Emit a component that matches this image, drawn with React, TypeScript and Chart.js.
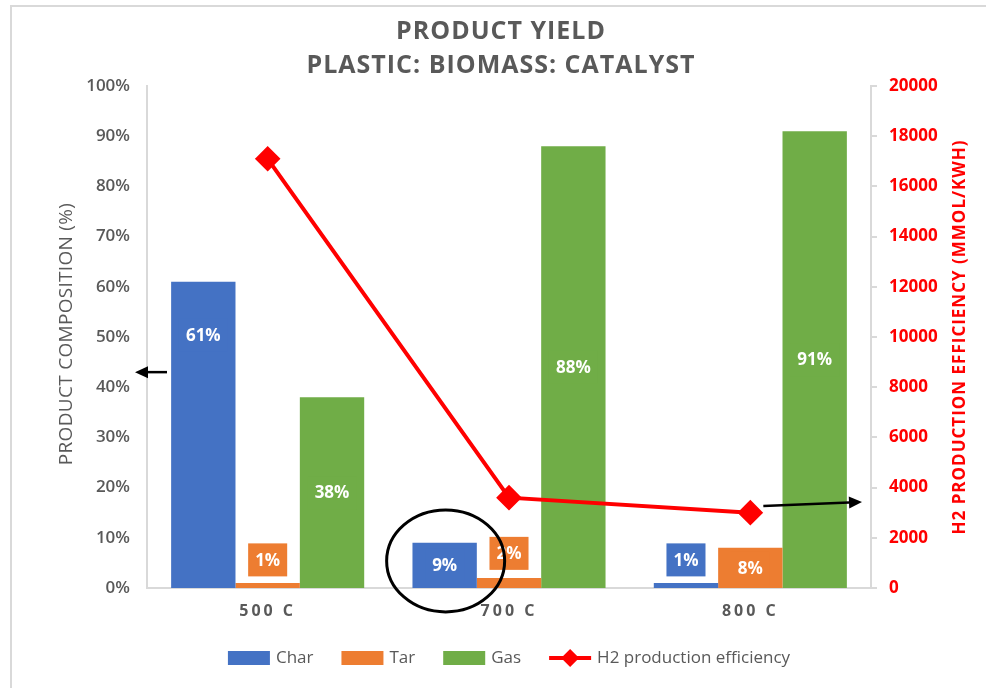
import React, { useEffect, useRef } from 'react';
import { Chart, registerables } from 'chart.js';

Chart.register(...registerables);

// ---------- data ----------
const categories = ['500 C', '700 C', '800 C'];
const charValues = [61, 9, 1];
const tarValues = [1, 2, 8];
const gasValues = [38, 88, 91];
const h2Values = [17100, 3600, 3000];
const titleLines = ['PRODUCT YIELD', 'PLASTIC: BIOMASS: CATALYST'];
const leftAxisTitle = 'PRODUCT COMPOSITION (%)';
const rightAxisTitle = 'H2 PRODUCTION EFFICIENCY (MMOL/KWH)';

const FONT = '"Open Sans", sans-serif';
const GRAY = '#595959';
const AXIS = '#d9d9d9';
const COLORS = { char: '#4472C4', tar: '#ED7D31', gas: '#70AD47', h2: '#FF0000' };

// label anchors (value on left axis) for labels moved off bar centres
const labelAnchors: Record<string, number> = { '0-0': 50.4, '1-0': 5.6, '1-1': 6.9, '0-2': 5.6 };

const framePlugin = {
  id: 'frame',
  beforeDraw(chart: any) {
    const ctx = chart.ctx;
    ctx.save();
    ctx.fillStyle = '#fff';
    ctx.fillRect(0, 0, chart.width, chart.height);
    ctx.strokeStyle = AXIS;
    ctx.lineWidth = 2;
    ctx.beginPath();
    ctx.moveTo(11, chart.height);
    ctx.lineTo(11, 6);
    ctx.lineTo(chart.width, 6);
    ctx.stroke();
    ctx.restore();
  },
};

// letter-spaced category labels on the x axis
const spacedXTicksPlugin = {
  id: 'spacedXTicks',
  afterLayout(chart: any) {
    const s = chart.scales.x;
    if (!s || s._spacedPatched) return;
    const orig = s.drawLabels.bind(s);
    s.drawLabels = (area: any) => {
      const ctx = chart.ctx;
      ctx.save();
      (ctx as any).letterSpacing = '3px';
      orig(area);
      ctx.restore();
    };
    s._spacedPatched = true;
  },
};

const titlePlugin = {
  id: 'spacedTitle',
  afterDraw(chart: any) {
    const ctx = chart.ctx;
    const { top, bottom } = chart.chartArea;
    ctx.save();
    ctx.fillStyle = GRAY;
    ctx.font = `bold 25px ${FONT}`;
    (ctx as any).letterSpacing = '1px';
    ctx.textAlign = 'center';
    ctx.textBaseline = 'middle';
    ctx.fillText(titleLines[0], 501, 32);
    ctx.fillText(titleLines[1], 501, 66);

    // left axis title
    ctx.save();
    ctx.translate(67, 334);
    ctx.rotate(-Math.PI / 2);
    ctx.font = `19px ${FONT}`;
    (ctx as any).letterSpacing = '0.3px';
    ctx.fillStyle = GRAY;
    ctx.fillText(leftAxisTitle, 0, 0);
    ctx.restore();

    // right axis title
    ctx.save();
    ctx.translate(960, (top + bottom) / 2);
    ctx.rotate(-Math.PI / 2);
    ctx.font = `bold 17px ${FONT}`;
    (ctx as any).letterSpacing = '1px';
    ctx.fillStyle = COLORS.h2;
    ctx.fillText(rightAxisTitle, 0, 0);
    ctx.restore();
    ctx.restore();
  },
};

const barLabelPlugin = {
  id: 'barLabels',
  afterDatasetsDraw(chart: any) {
    const ctx = chart.ctx;
    const yScale = chart.scales.y;
    ctx.save();
    chart.data.datasets.forEach((ds: any, di: number) => {
      if (ds.type === 'line') return;
      const meta = chart.getDatasetMeta(di);
      meta.data.forEach((bar: any, i: number) => {
        const text = ds.data[i] + '%';
        const key = di + '-' + i;
        const cy = labelAnchors[key] != null ? yScale.getPixelForValue(labelAnchors[key]) : (bar.y + bar.base) / 2;
        ctx.font = `bold 17px ${FONT}`;
        const tw = ctx.measureText(text).width;
        const bw = tw + 14;
        const bh = 33;
        ctx.fillStyle = ds.backgroundColor;
        ctx.fillRect(bar.x - bw / 2, cy - bh / 2, bw, bh);
        ctx.fillStyle = '#ffffff';
        ctx.textAlign = 'center';
        ctx.textBaseline = 'middle';
        ctx.fillText(text, bar.x, cy + 1);
      });
    });
    ctx.restore();
  },
};

function arrow(ctx: CanvasRenderingContext2D, x1: number, y1: number, x2: number, y2: number) {
  const ang = Math.atan2(y2 - y1, x2 - x1);
  const hl = 13;
  const hw = 6;
  const bx = x2 - hl * Math.cos(ang);
  const by = y2 - hl * Math.sin(ang);
  ctx.beginPath();
  ctx.moveTo(x1, y1);
  ctx.lineTo(bx, by);
  ctx.stroke();
  ctx.beginPath();
  ctx.moveTo(x2, y2);
  ctx.lineTo(bx + hw * Math.sin(ang), by - hw * Math.cos(ang));
  ctx.lineTo(bx - hw * Math.sin(ang), by + hw * Math.cos(ang));
  ctx.closePath();
  ctx.fill();
}

const annotationPlugin = {
  id: 'annotations',
  afterDraw(chart: any) {
    const ctx = chart.ctx;
    const { left, right } = chart.chartArea;
    const y = chart.scales.y;
    const y1 = chart.scales.y1;
    const x = chart.scales.x;
    ctx.save();
    ctx.strokeStyle = '#000';
    ctx.fillStyle = '#000';
    ctx.lineWidth = 2.5;
    // left arrow -> left axis
    const ly = y.getPixelForValue(43);
    arrow(ctx, left + 20, ly, left - 12, ly);
    // right arrow -> right axis
    const px = x.getPixelForValue(2);
    arrow(ctx, px + 13, y1.getPixelForValue(3270), right - 9, y1.getPixelForValue(3430));
    // ellipse around 700 C char bar
    const charBar = chart.getDatasetMeta(0).data[1];
    ctx.lineWidth = 3;
    ctx.beginPath();
    ctx.ellipse(charBar.x + 1, y.getPixelForValue(5.4), 59, 51, 0, 0, Math.PI * 2);
    ctx.stroke();
    ctx.restore();
  },
};

const legendPlugin = {
  id: 'customLegend',
  afterDraw(chart: any) {
    const ctx = chart.ctx;
    ctx.save();
    ctx.font = `17px ${FONT}`;
    const items = chart.data.datasets.map((ds: any) => ({
      label: ds.label,
      color: ds.type === 'line' ? ds.borderColor : ds.backgroundColor,
      line: ds.type === 'line',
      w: ctx.measureText(ds.label).width,
    }));
    const box = 42;
    const gapIn = 6;
    const gapOut = 28;
    const total = items.reduce((s: number, it: any) => s + box + gapIn + it.w, 0) + gapOut * (items.length - 1);
    let cx = 509 - total / 2;
    const cy = 658;
    items.forEach((it: any) => {
      if (it.line) {
        ctx.strokeStyle = it.color;
        ctx.lineWidth = 4;
        ctx.beginPath();
        ctx.moveTo(cx, cy);
        ctx.lineTo(cx + box, cy);
        ctx.stroke();
        ctx.fillStyle = it.color;
        ctx.beginPath();
        const mx = cx + box / 2;
        ctx.moveTo(mx, cy - 9);
        ctx.lineTo(mx + 9, cy);
        ctx.lineTo(mx, cy + 9);
        ctx.lineTo(mx - 9, cy);
        ctx.closePath();
        ctx.fill();
      } else {
        ctx.fillStyle = it.color;
        ctx.fillRect(cx, cy - 7, box, 14);
      }
      ctx.fillStyle = GRAY;
      ctx.textAlign = 'left';
      ctx.textBaseline = 'middle';
      ctx.fillText(it.label, cx + box + gapIn, cy);
      cx += box + gapIn + it.w + gapOut;
    });
    ctx.restore();
  },
};

export default function App() {
  const ref = useRef<HTMLCanvasElement | null>(null);

  useEffect(() => {
    if (!ref.current) return;
    const chart = new Chart(ref.current, {
      type: 'bar',
      data: {
        labels: categories,
        datasets: [
          { type: 'bar', label: 'Char', data: charValues, backgroundColor: COLORS.char, yAxisID: 'y', order: 1, categoryPercentage: 0.8, barPercentage: 1.0 } as any,
          { type: 'bar', label: 'Tar', data: tarValues, backgroundColor: COLORS.tar, yAxisID: 'y', order: 1, categoryPercentage: 0.8, barPercentage: 1.0 } as any,
          { type: 'bar', label: 'Gas', data: gasValues, backgroundColor: COLORS.gas, yAxisID: 'y', order: 1, categoryPercentage: 0.8, barPercentage: 1.0 } as any,
          {
            type: 'line',
            label: 'H2 production efficiency',
            data: h2Values,
            borderColor: COLORS.h2,
            backgroundColor: COLORS.h2,
            borderWidth: 4,
            pointStyle: 'rectRot',
            pointRadius: 10,
            pointBackgroundColor: COLORS.h2,
            pointBorderColor: COLORS.h2,
            yAxisID: 'y1',
            order: 0,
            tension: 0,
          } as any,
        ],
      },
      options: {
        responsive: false,
        animation: false,
        devicePixelRatio: 1,
        layout: { padding: { top: 86, left: 0, right: 0, bottom: 0 } },
        plugins: {
          legend: { display: false },
          title: { display: false },
          tooltip: { enabled: false },
        },
        scales: {
          x: {
            grid: { display: false, drawTicks: false },
            border: { display: true, color: AXIS, width: 2 },
            ticks: { color: GRAY, font: { family: FONT, size: 16, weight: 'bold' }, padding: 14 },
            afterFit: (s: any) => { s.height = 100; },
          },
          y: {
            position: 'left',
            min: 0,
            max: 100,
            ticks: { stepSize: 10, color: GRAY, font: { family: FONT, size: 17, weight: 600 }, padding: 17, callback: (v: any) => v + '%' },
            grid: { display: false, drawTicks: false },
            border: { display: true, color: AXIS, width: 2 },
            title: { display: false },
            afterFit: (s: any) => { s.width = 147; },
          },
          y1: {
            position: 'right',
            min: 0,
            max: 20000,
            ticks: { stepSize: 2000, color: COLORS.h2, font: { family: FONT, size: 17, weight: 'bold' }, padding: 12, callback: (v: any) => String(v) },
            grid: { display: true, drawOnChartArea: false, drawTicks: true, tickLength: 6, color: AXIS, lineWidth: 2 },
            border: { display: true, color: AXIS, width: 2 },
            title: { display: false },
            afterFit: (s: any) => { s.width = 115; },
          },
        },
      } as any,
      plugins: [framePlugin, spacedXTicksPlugin, barLabelPlugin, annotationPlugin, titlePlugin, legendPlugin],
    });
    return () => chart.destroy();
  }, []);

  return (
    <div style={{ position: 'absolute', left: 0, top: 0, width: 986, height: 688, background: '#fff' }}>
      <canvas ref={ref} width={986} height={688} style={{ width: 986, height: 688, display: 'block' }} />
    </div>
  );
}
